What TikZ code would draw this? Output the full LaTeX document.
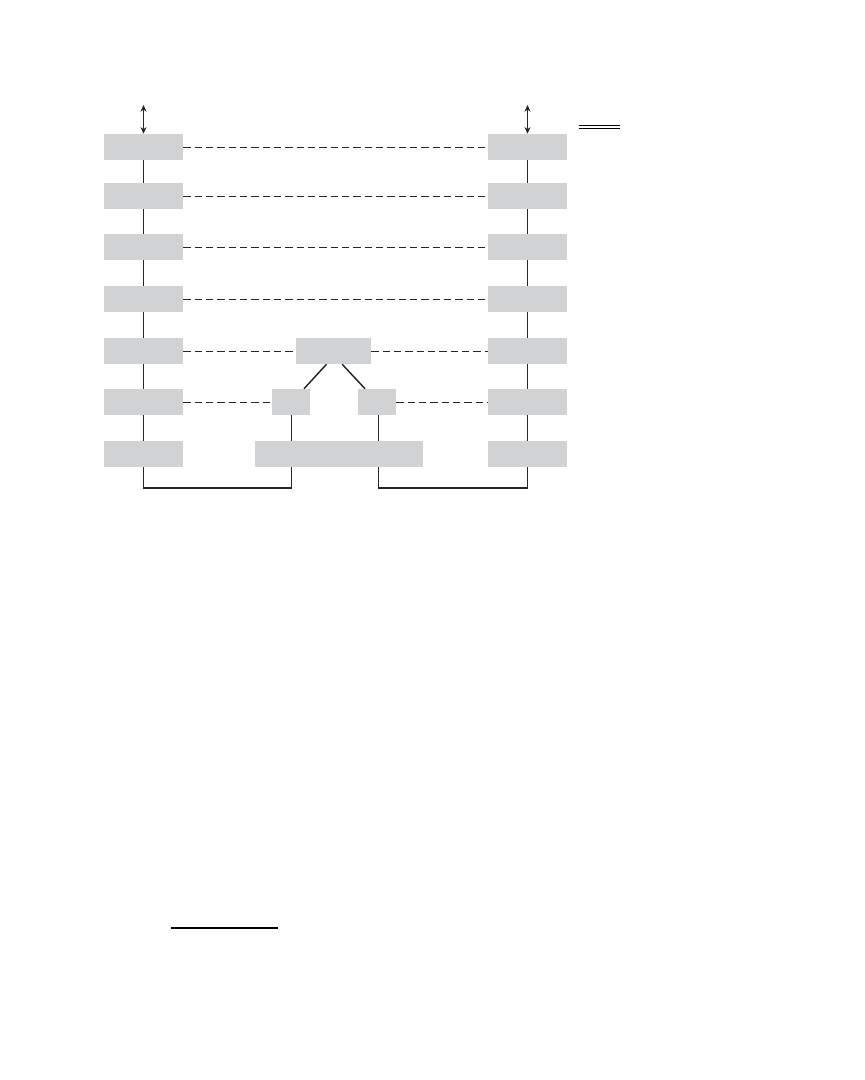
\documentclass[tikz,border=0pt]{standalone}
\usetikzlibrary{arrows.meta}
\definecolor{boxgray}{HTML}{D1D2D4}
\begin{document}
\begin{tikzpicture}[x=0.75pt,y=-0.75pt,
  blk/.style={fill=boxgray,draw=none,inner sep=0pt,minimum height=26*0.75pt},
  side/.style={blk,minimum width=79*0.75pt},
  conn/.style={draw=black!85,line width=1.1pt},
  dsh/.style={draw=black!85,line width=0.7pt,dash pattern=on 5.5pt off 3pt},
  bidir/.style={conn,{Stealth[length=5pt,width=4.5pt]}-{Stealth[length=5pt,width=4.5pt]}}]
\useasboundingbox (0,0) rectangle (864,1080);
% side columns
\foreach \i/\y in {1/147,2/196,3/247,4/299,5/351,6/402,7/454}{
  \node[side] (L\i) at (143.5,\y) {};
  \node[side] (R\i) at (527.5,\y) {};
}
% middle boxes
\node[blk,minimum width=75*0.75pt] (T) at (333.5,351) {};
\node[blk,minimum width=38*0.75pt] (S1) at (291,402) {};
\node[blk,minimum width=38*0.75pt] (S2) at (377,402) {};
\node[blk,minimum width=168*0.75pt] (W) at (339,454) {};
% free ends
\coordinate (LA) at (143.5,105);
\coordinate (RA) at (527.5,105);
\coordinate (yb) at (0,488);
\coordinate (d1) at (579,127);
\coordinate (d2) at (620,127);
\coordinate (f1) at (171,928);
\coordinate (f2) at (278,928);
% vertical chains
\foreach \a/\b in {1/2,2/3,3/4,4/5,5/6,6/7}{
  \draw[conn] (L\a.south) -- (L\b.north);
  \draw[conn] (R\a.south) -- (R\b.north);
}
\draw[bidir] (LA) -- (L1.north);
\draw[bidir] (RA) -- (R1.north);
% dashed peer lines
\foreach \i in {1,2,3,4}{
  \draw[dsh] (L\i.east) -- (R\i.west);
}
\draw[dsh] (L5.east) -- (T.west);
\draw[dsh] (T.east) -- (R5.west);
\draw[dsh] (L6.east) -- (S1.west);
\draw[dsh] (S2.east) -- (R6.west);
% middle tree
\draw[conn] ([xshift=-5.25pt]T.south) -- ([xshift=9.75pt]S1.north);
\draw[conn] ([xshift=6.5pt]T.south) -- ([xshift=-9pt]S2.north);
\draw[conn] ([xshift=0.5pt]S1.south) -- ([xshift=0.5pt]S1.south |- W.north);
\draw[conn] ([xshift=1pt]S2.south) -- ([xshift=1pt]S2.south |- W.north);
% bottom links
\draw[conn] (L7.south) |- ([xshift=0.5pt]yb -| S1);
\draw[conn] ([xshift=0.5pt]S1.south |- W.south) -- ([xshift=0.5pt]S1 |- yb);
\draw[conn] ([xshift=1pt]S2.south |- W.south) |- (yb -| R7);
\draw[conn] (R7.south) -- (R7 |- yb);
% legend double line and footnote rule
\draw[draw=black,line width=0.6pt,double=white,double distance=1.2pt] (d1) -- (d2);
\draw[draw=black,line width=0.8pt] (f1) -- (f2);
\end{tikzpicture}
\end{document}
